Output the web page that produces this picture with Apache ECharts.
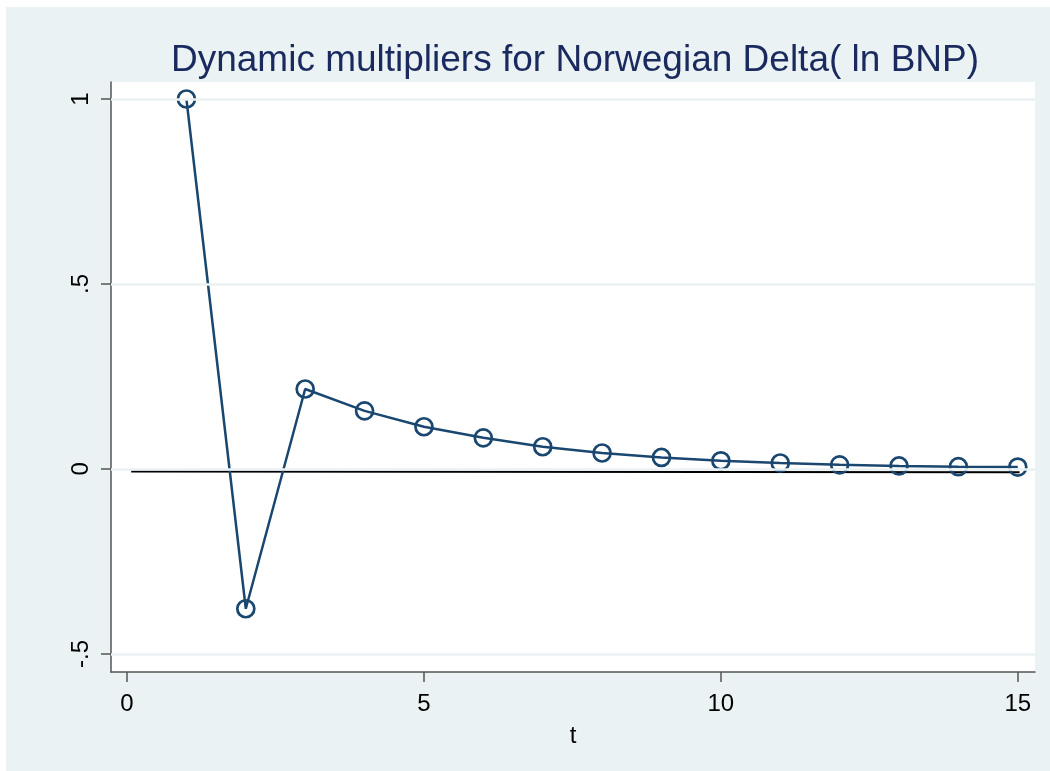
<!DOCTYPE html>
<html><head><meta charset="utf-8">
<script src="https://cdn.jsdelivr.net/npm/echarts@6/dist/echarts.min.js"></script>
<style>html,body{margin:0;padding:0;background:#fff;}#c{position:absolute;left:6px;top:7px;width:1044px;height:764px;}</style>
</head><body><div id="c"></div>
<script>
const title = 'Dynamic multipliers for Norwegian Delta( ln BNP)';
const tValues = [1,2,3,4,5,6,7,8,9,10,11,12,13,14,15];
const multipliers = [1.0,-0.378,0.216,0.157,0.114,0.084,0.060,0.043,0.031,0.022,0.016,0.011,0.008,0.006,0.005];
const refLineX = [0.07, 15.03];
const refLineY = [-0.007, -0.009];
const xTicks = [0,5,10,15];
const yTicks = [-0.5,0,0.5,1];
const yTickLabels = {'-0.5':'-.5','0':'0','0.5':'.5','1':'1'};
const navy = '#1a476f';
const bg = '#eaf2f3';
const chart = echarts.init(document.getElementById('c'));
chart.setOption({
  backgroundColor: bg,
  animation:false,
  title:{text:title,left:564,top:30,textAlign:'center',textStyle:{color:'#1a2a5e',fontFamily:'Liberation Sans',fontWeight:'normal',fontSize:37}},
  grid:{left:105,top:75,width:924,height:590,show:true,backgroundColor:'#fff',borderWidth:0},
  xAxis:{type:'value',min:-0.27,max:15.29,name:'t',nameLocation:'middle',nameGap:52,
    nameTextStyle:{color:'#000',fontFamily:'Liberation Sans',fontSize:24},
    axisLine:{show:true,onZero:false,lineStyle:{color:'#555',width:1.5}},
    axisTick:{show:true,length:10,customValues:xTicks,lineStyle:{color:'#555',width:1.5}},
    axisLabel:{customValues:xTicks,color:'#000',fontFamily:'Liberation Sans',fontSize:24,margin:20},
    splitLine:{show:false}},
  yAxis:{type:'value',min:-0.549,max:1.046,
    axisLine:{show:true,onZero:false,lineStyle:{color:'#555',width:1.5}},
    axisTick:{show:true,length:10,customValues:yTicks,lineStyle:{color:'#555',width:1.5}},
    axisLabel:{customValues:yTicks,rotate:90,color:'#000',fontFamily:'Liberation Sans',fontSize:24,margin:18,
      formatter:v=>yTickLabels[String(v)]!==undefined?yTickLabels[String(v)]:String(v)},
    splitLine:{show:false}},
  series:[
    {type:'line',data:[],silent:true,
     markLine:{silent:true,symbol:'none',label:{show:false},lineStyle:{color:bg,width:2.5,type:'solid'},
       data:yTicks.map(v=>({yAxis:v}))}},
    {type:'line',data:refLineX.map((x,i)=>[x,refLineY[i]]),symbol:'none',lineStyle:{color:'#000',width:2},z:3},
    {type:'line',data:tValues.map((t,i)=>[t,multipliers[i]]),symbol:'circle',symbolSize:17,showAllSymbol:true,
     itemStyle:{color:'rgba(0,0,0,0)',borderColor:navy,borderWidth:2.7},
     lineStyle:{color:navy,width:2.5},z:4}
  ]
});
</script></body></html>
